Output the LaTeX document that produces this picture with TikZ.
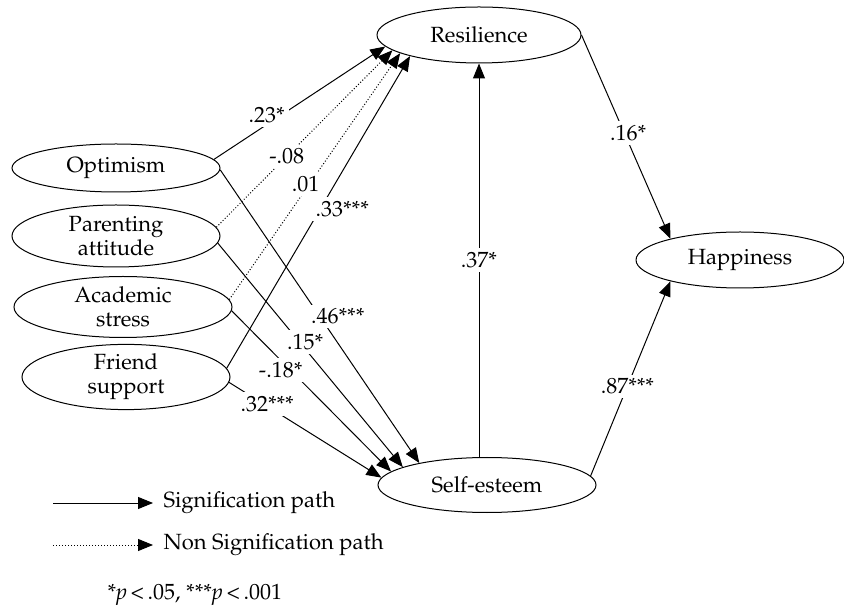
\documentclass[tikz,border=0pt]{standalone}
\usepackage[T1]{fontenc}
\usepackage{mathpazo}
\usetikzlibrary{arrows.meta,shapes.geometric}

\begin{document}
\begin{tikzpicture}[x=0.5pt,y=-0.5pt, >={Triangle[length=7.5pt,width=6pt]}, line width=0.5pt]
                \tikzstyle{every node}=[font=\fontsize{11}{12}\selectfont]
                \tikzstyle{var}=[draw, ellipse, inner sep=0pt, align=center]
                \tikzstyle{sig}=[->]
                \tikzstyle{nonsig}=[->, dash pattern=on 0.5pt off 1pt]
                \tikzstyle{coef}=[fill=white, inner sep=2pt]
                \useasboundingbox (0,0) rectangle (844,613);
                % outcome and mediators
                \node[var, minimum width=102pt, minimum height=28pt] (res) at (479,35) {Resilience};
                \node[var, minimum width=104pt, minimum height=28pt] (hap) at (740,260) {Happiness};
                \node[var, minimum width=109pt, minimum height=27.5pt] (se) at (487,485) {Self-esteem};
                % predictors
                \node[var, minimum width=104pt, minimum height=24pt] (opt) at (116,168) {Optimism};
                \node[var, minimum width=104pt, minimum height=31pt] (par) at (116,236) {Parenting\\attitude};
                \node[var, minimum width=109pt, minimum height=30.5pt] (aca) at (123,307) {Academic\\stress};
                \node[var, minimum width=104pt, minimum height=30.5pt] (fri) at (126,377) {Friend\\support};
                % paths to resilience
                \foreach \from/\ang/\to/\kind/\val/\p/\dx in {opt/5/187/sig/.23*/.39/-7, par/5/190/nonsig/-.08/.4/0, aca/4/193/nonsig/.01/.47/-2, fri/5/197/sig/.33***/.51/11}
                    {
                        \draw[\kind] (\from.\ang) -- (res.\to) node[coef, pos=\p, xshift=\dx pt]{\val};
                    }
                % paths to self-esteem
                \foreach \from/\ang/\to/\val/\p/\dx in {opt/-1/162/.46***/.5/9, par/-4/168/.15*/.44/3, aca/-2/172/-.18*/.37/-5, fri/-3/176/.32***/.23/1.5}
                    {
                        \draw[sig] (\from.\ang) -- (se.\to) node[coef, pos=\p, xshift=\dx pt]{\val};
                    }
                \draw[sig] (se.north -| res.south) -- (res.south) node[coef, pos=.5]{.37*};
                \draw[sig] (res.east) -- (hap.163) node[coef, pos=.48, xshift=2pt]{.16*};
                \draw[sig] (se.5) -- (hap.197) node[coef, pos=.46]{.87***};
                % legend
                \coordinate (sigstart) at (53,503);
                \coordinate (nonsigstart) at (53,545);
                \node[anchor=west, inner xsep=5pt] (sigtxt) at (153,503) {Signification path};
                \node[anchor=west, inner xsep=5pt] (nonsigtxt) at (153,545) {Non Signification path};
                \draw[sig] (sigstart) -- (sigtxt.west);
                \draw[nonsig] (nonsigstart) -- (nonsigtxt.west);
                \node[anchor=west, inner sep=0pt] (note) at (107,595) {*\textit{p}\,<\,.05, ***\textit{p}\,<\,.001};
            \end{tikzpicture}
\end{document}
